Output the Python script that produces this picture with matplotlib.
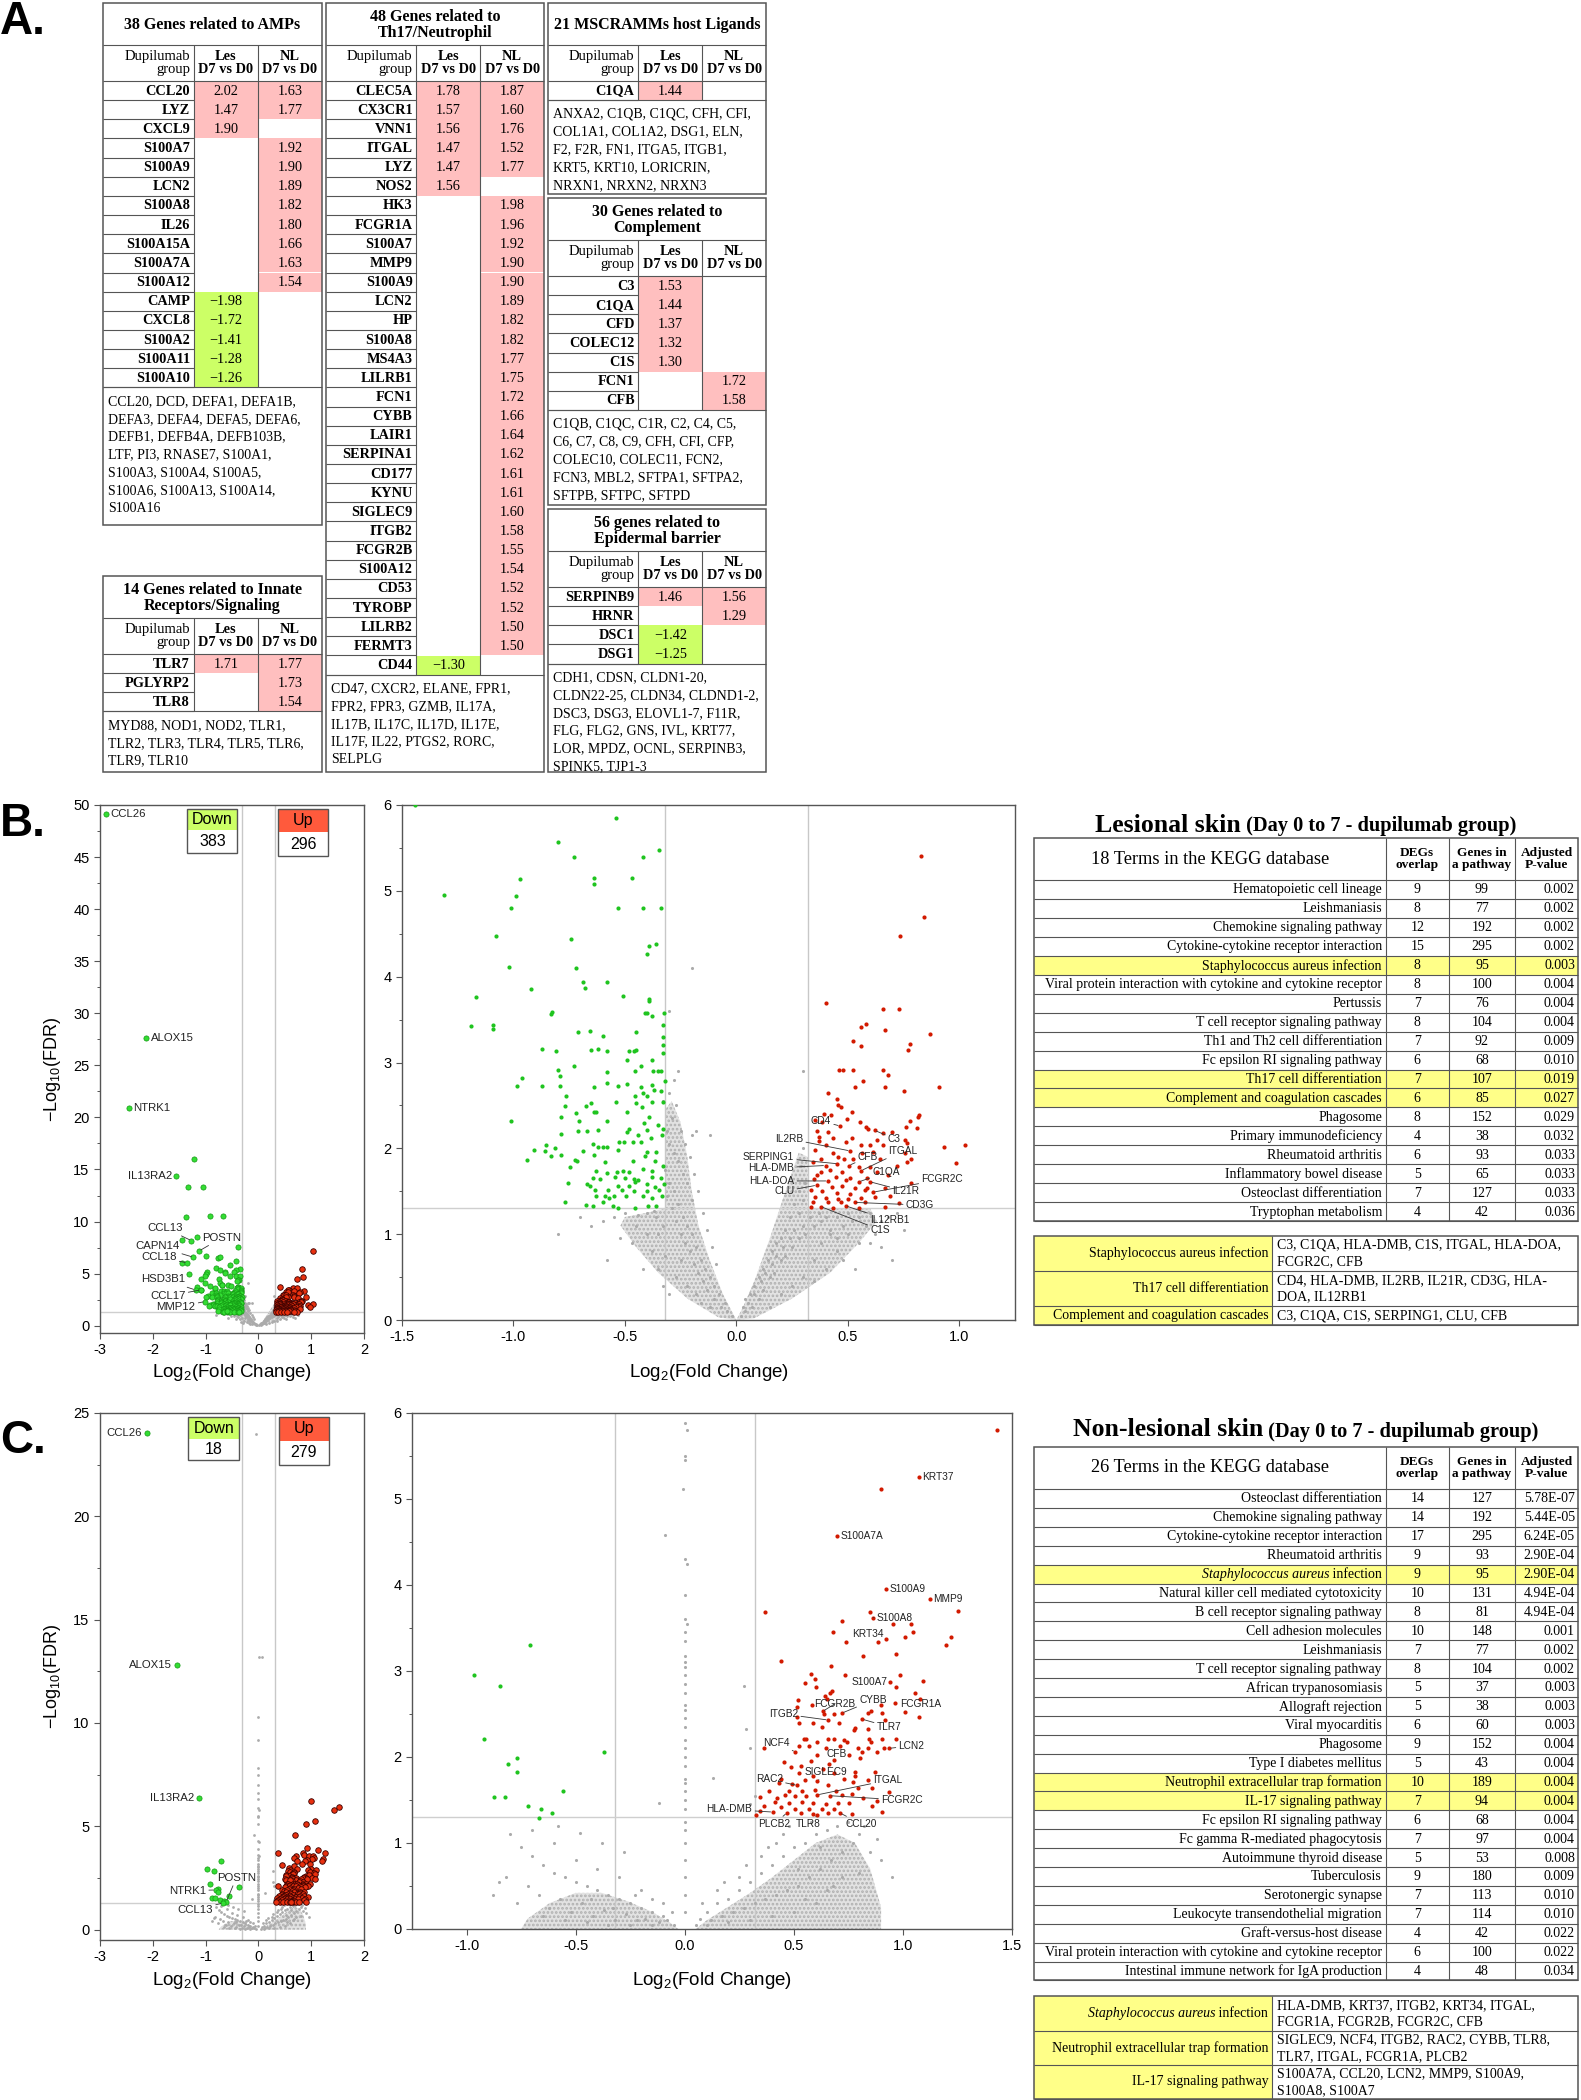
import matplotlib
matplotlib.use("Agg")
import matplotlib.pyplot as plt
from matplotlib.patches import Rectangle
from matplotlib.ticker import MultipleLocator

plt.rcParams['font.family'] = ['Liberation Sans', 'DejaVu Sans']
plt.rcParams['mathtext.fontset'] = 'custom'
plt.rcParams['mathtext.rm'] = 'Liberation Sans'
plt.rcParams['mathtext.it'] = 'Liberation Sans:italic'
plt.rcParams['mathtext.bf'] = 'Liberation Sans:bold'
plt.rcParams['axes.unicode_minus'] = False
plt.rcParams['hatch.linewidth'] = 1.3

# ====================== DATA: panel A gene tables ======================
amp_title = "38 Genes related to AMPs"
amp_genes = ["CCL20", "LYZ", "CXCL9", "S100A7", "S100A9", "LCN2", "S100A8", "IL26", "S100A15A",
             "S100A7A", "S100A12", "CAMP", "CXCL8", "S100A2", "S100A11", "S100A10"]
amp_les = [2.02, 1.47, 1.90, None, None, None, None, None, None, None, None, -1.98, -1.72, -1.41, -1.28, -1.26]
amp_nl = [1.63, 1.77, None, 1.92, 1.90, 1.89, 1.82, 1.80, 1.66, 1.63, 1.54, None, None, None, None, None]
amp_other = ["CCL20, DCD, DEFA1, DEFA1B,", "DEFA3, DEFA4, DEFA5, DEFA6,", "DEFB1, DEFB4A, DEFB103B,",
             "LTF, PI3, RNASE7, S100A1,", "S100A3, S100A4, S100A5,", "S100A6, S100A13, S100A14,", "S100A16"]

inn_title = "14 Genes related to Innate\nReceptors/Signaling"
inn_genes = ["TLR7", "PGLYRP2", "TLR8"]
inn_les = [1.71, None, None]
inn_nl = [1.77, 1.73, 1.54]
inn_other = ["MYD88, NOD1, NOD2, TLR1,", "TLR2, TLR3, TLR4, TLR5, TLR6,", "TLR9, TLR10"]

th_title = "48 Genes related to\nTh17/Neutrophil"
th_genes = ["CLEC5A", "CX3CR1", "VNN1", "ITGAL", "LYZ", "NOS2", "HK3", "FCGR1A", "S100A7", "MMP9",
            "S100A9", "LCN2", "HP", "S100A8", "MS4A3", "LILRB1", "FCN1", "CYBB", "LAIR1", "SERPINA1",
            "CD177", "KYNU", "SIGLEC9", "ITGB2", "FCGR2B", "S100A12", "CD53", "TYROBP", "LILRB2",
            "FERMT3", "CD44"]
th_les = [1.78, 1.57, 1.56, 1.47, 1.47, 1.56, None, None, None, None,
          None, None, None, None, None, None, None, None, None, None,
          None, None, None, None, None, None, None, None, None, None, -1.30]
th_nl = [1.87, 1.60, 1.76, 1.52, 1.77, None, 1.98, 1.96, 1.92, 1.90,
         1.90, 1.89, 1.82, 1.82, 1.77, 1.75, 1.72, 1.66, 1.64, 1.62,
         1.61, 1.61, 1.60, 1.58, 1.55, 1.54, 1.52, 1.52, 1.50, 1.50, None]
th_other = ["CD47, CXCR2, ELANE, FPR1,", "FPR2, FPR3, GZMB, IL17A,", "IL17B, IL17C, IL17D, IL17E,",
            "IL17F, IL22, PTGS2, RORC,", "SELPLG"]

ms_title = "21 MSCRAMMs host Ligands"
ms_genes = ["C1QA"]
ms_les = [1.44]
ms_nl = [None]
ms_other = ["ANXA2, C1QB, C1QC, CFH, CFI,", "COL1A1, COL1A2, DSG1, ELN,", "F2, F2R, FN1, ITGA5, ITGB1,",
            "KRT5, KRT10, LORICRIN,", "NRXN1, NRXN2, NRXN3"]

co_title = "30 Genes related to\nComplement"
co_genes = ["C3", "C1QA", "CFD", "COLEC12", "C1S", "FCN1", "CFB"]
co_les = [1.53, 1.44, 1.37, 1.32, 1.30, None, None]
co_nl = [None, None, None, None, None, 1.72, 1.58]
co_other = ["C1QB, C1QC, C1R, C2, C4, C5,", "C6, C7, C8, C9, CFH, CFI, CFP,", "COLEC10, COLEC11, FCN2,",
            "FCN3, MBL2, SFTPA1, SFTPA2,", "SFTPB, SFTPC, SFTPD"]

ep_title = "56 genes related to\nEpidermal barrier"
ep_genes = ["SERPINB9", "HRNR", "DSC1", "DSG1"]
ep_les = [1.46, None, -1.42, -1.25]
ep_nl = [1.56, 1.29, None, None]
ep_other = ["CDH1, CDSN, CLDN1-20,", "CLDN22-25, CLDN34, CLDND1-2,", "DSC3, DSG3, ELOVL1-7, F11R,",
            "FLG, FLG2, GNS, IVL, KRT77,", "LOR, MPDZ, OCNL, SERPINB3,", "SPINK5, TJP1-3"]

# ====================== DATA: KEGG tables ======================
kb_terms = ["Hematopoietic cell lineage", "Leishmaniasis", "Chemokine signaling pathway",
            "Cytokine-cytokine receptor interaction", "Staphylococcus aureus infection",
            "Viral protein interaction with cytokine and cytokine receptor", "Pertussis",
            "T cell receptor signaling pathway", "Th1 and Th2 cell differentiation",
            "Fc epsilon RI signaling pathway", "Th17 cell differentiation",
            "Complement and coagulation cascades", "Phagosome", "Primary immunodeficiency",
            "Rheumatoid arthritis", "Inflammatory bowel disease", "Osteoclast differentiation",
            "Tryptophan metabolism"]
kb_degs = [9, 8, 12, 15, 8, 8, 7, 8, 7, 6, 7, 6, 8, 4, 6, 5, 7, 4]
kb_genes = [99, 77, 192, 295, 95, 100, 76, 104, 92, 68, 107, 85, 152, 38, 93, 65, 127, 42]
kb_padj = ["0.002", "0.002", "0.002", "0.002", "0.003", "0.004", "0.004", "0.004", "0.009",
           "0.010", "0.019", "0.027", "0.029", "0.032", "0.033", "0.033", "0.033", "0.036"]
kb_highlight = [4, 10, 11]
kb_sel_names = ["Staphylococcus aureus infection", "Th17 cell differentiation",
                "Complement and coagulation cascades"]
kb_sel_genes = [["C3, C1QA, HLA-DMB, C1S, ITGAL, HLA-DOA,", "FCGR2C, CFB"],
                ["CD4, HLA-DMB, IL2RB, IL21R, CD3G, HLA-", "DOA, IL12RB1"],
                ["C3, C1QA, C1S, SERPING1, CLU, CFB"]]

kc_terms = ["Osteoclast differentiation", "Chemokine signaling pathway",
            "Cytokine-cytokine receptor interaction", "Rheumatoid arthritis",
            "Staphylococcus aureus infection", "Natural killer cell mediated cytotoxicity",
            "B cell receptor signaling pathway", "Cell adhesion molecules", "Leishmaniasis",
            "T cell receptor signaling pathway", "African trypanosomiasis", "Allograft rejection",
            "Viral myocarditis", "Phagosome", "Type I diabetes mellitus",
            "Neutrophil extracellular trap formation", "IL-17 signaling pathway",
            "Fc epsilon RI signaling pathway", "Fc gamma R-mediated phagocytosis",
            "Autoimmune thyroid disease", "Tuberculosis", "Serotonergic synapse",
            "Leukocyte transendothelial migration", "Graft-versus-host disease",
            "Viral protein interaction with cytokine and cytokine receptor",
            "Intestinal immune network for IgA production"]
kc_degs = [14, 14, 17, 9, 9, 10, 8, 10, 7, 8, 5, 5, 6, 9, 5, 10, 7, 6, 7, 5, 9, 7, 7, 4, 6, 4]
kc_genes = [127, 192, 295, 93, 95, 131, 81, 148, 77, 104, 37, 38, 60, 152, 43, 189, 94, 68, 97,
            53, 180, 113, 114, 42, 100, 48]
kc_padj = ["5.78E-07", "5.44E-05", "6.24E-05", "2.90E-04", "2.90E-04", "4.94E-04", "4.94E-04",
           "0.001", "0.002", "0.002", "0.003", "0.003", "0.003", "0.004", "0.004", "0.004",
           "0.004", "0.004", "0.004", "0.008", "0.009", "0.010", "0.010", "0.022", "0.022", "0.034"]
kc_highlight = [4, 15, 16]
kc_sel_names = ["Staphylococcus aureus infection", "Neutrophil extracellular trap formation",
                "IL-17 signaling pathway"]
kc_sel_genes = [["HLA-DMB, KRT37, ITGB2, KRT34, ITGAL,", "FCGR1A, FCGR2B, FCGR2C, CFB"],
                ["SIGLEC9, NCF4, ITGB2, RAC2, CYBB, TLR8,", "TLR7, ITGAL, FCGR1A, PLCB2"],
                ["S100A7A, CCL20, LCN2, MMP9, S100A9,", "S100A8, S100A7"]]

# ====================== DATA: volcano plots (log2FC, -log10 FDR) ======================
b_counts = (383, 296)
c_counts = (18, 279)

b_down = [(-1.44,6.0),(-0.54,5.85),(-0.80,5.57),(-0.73,5.39),(-0.345,5.47),(-0.42,5.39),(-0.97,5.14),
 (-0.64,5.15),(-0.47,5.15),(-0.64,5.08),(-1.31,4.95),(-0.99,4.94),(-1.01,4.80),(-0.53,4.80),(-0.42,4.80),
 (-0.34,4.80),(-1.08,4.47),(-0.74,4.44),(-0.36,4.38),(-0.39,4.36),(-0.40,4.26),(-1.02,4.11),(-0.72,4.10),
 (-0.92,3.86),(-0.69,3.94),(-0.68,3.87),(-0.58,3.94),(-0.51,3.77),(-1.17,3.76),(-0.39,3.74),(-0.39,3.72),
 (-0.83,3.57),(-0.825,3.59),(-0.41,3.58),(-0.40,3.58),(-0.325,3.58),(-0.38,3.54),(-1.19,3.43),(-1.09,3.44),
 (-1.09,3.39),(-0.71,3.35),(-0.655,3.37),(-0.60,3.31),(-0.45,3.35),(-0.33,3.44),(-0.33,3.30),(-0.87,3.16),
 (-0.81,3.13),(-0.65,3.14),(-0.62,3.16),(-0.58,3.13),(-0.48,3.13),(-0.46,3.13),(-0.45,3.14),(-0.33,3.20),
 (-0.33,3.11),(-0.73,2.96),(-0.49,3.03),(-0.455,2.90),(-0.43,2.96),(-0.38,3.03),(-0.375,2.90),(-0.35,2.90),
 (-0.80,2.91),(-0.79,2.84),(-0.96,2.82),(-0.58,2.89),(-0.34,2.90),(-0.32,2.79),(-0.58,2.76),(-0.985,2.73),
 (-0.87,2.73),(-0.79,2.73),(-0.64,2.72),(-0.53,2.73),(-0.49,2.75),(-0.43,2.72),(-0.38,2.74),(-0.34,2.67),
 (-0.37,2.68),(-0.42,2.65),(-0.765,2.61),(-0.455,2.61),(-0.40,2.61),(-0.33,2.54),(-0.65,2.53),(-0.54,2.54),
 (-0.45,2.53),(-0.38,2.54),(-0.77,2.49),(-0.675,2.49),(-0.64,2.42),(-0.63,2.42),(-0.49,2.42),(-0.425,2.48),
 (-0.72,2.41),(-0.39,2.36),(-0.785,2.36),(-1.01,2.32),(-0.705,2.32),(-0.58,2.32),(-0.415,2.30),(-0.35,2.27),
 (-0.48,2.22),(-0.67,2.20),(-0.62,2.21),(-0.40,2.21),(-0.33,2.22),(-0.49,2.19),(-0.44,2.16),(-0.335,2.15),
 (-0.785,2.17),(-0.71,2.20),(-0.525,2.07),(-0.505,2.07),(-0.465,2.07),(-0.43,2.07),(-0.385,2.12),(-0.645,2.05),
 (-0.60,2.01),(-0.58,2.01),(-0.62,2.01),(-0.855,2.04),(-0.815,2.00),(-0.91,1.98),(-0.86,1.97),(-0.69,1.97),
 (-0.53,1.98),(-0.40,1.96),(-0.36,1.96),(-0.83,1.91),(-0.785,1.92),(-0.64,1.92),(-0.41,1.91),(-0.94,1.86),
 (-0.725,1.86),(-0.715,1.85),(-0.59,1.84),(-0.465,1.85),(-0.365,1.85),(-0.33,1.80),(-0.745,1.78),(-0.63,1.74),
 (-0.535,1.73),(-0.51,1.74),(-0.48,1.73),(-0.42,1.76),(-0.38,1.74),(-0.58,1.71),(-0.545,1.67),(-0.50,1.66),
 (-0.46,1.64),(-0.44,1.63),(-0.38,1.67),(-0.34,1.65),(-0.645,1.65),(-0.61,1.64),(-0.67,1.59),(-0.755,1.60),
 (-0.655,1.56),(-0.53,1.56),(-0.48,1.56),(-0.455,1.61),(-0.40,1.59),(-0.325,1.59),(-0.635,1.52),(-0.575,1.52),
 (-0.515,1.52),(-0.46,1.50),(-0.40,1.50),(-0.365,1.55),(-0.345,1.52),(-0.63,1.45),(-0.59,1.44),(-0.55,1.44),
 (-0.495,1.44),(-0.42,1.45),(-0.38,1.42),(-0.335,1.45),(-0.77,1.37),(-0.675,1.34),(-0.645,1.33),(-0.57,1.42),
 (-0.555,1.33),(-0.53,1.31),(-0.455,1.31),(-0.395,1.33),(-0.36,1.33),(-0.60,1.38)]
b_down_high = [(-2.886,49.18),(-2.12,27.66),(-2.45,20.9),(-1.554,14.38),(-1.22,16.0),(-1.33,13.3),
 (-1.05,13.3),(-1.38,10.4),(-0.92,10.5),(-0.67,10.5),(-1.27,8.17),(-1.17,8.5),(-1.44,8.2),(-1.125,7.17),
 (-0.38,7.6),(-1.23,6.57),(-1.0,6.7),(-0.76,6.5),(-0.72,6.6),(-0.42,6.25),(-1.35,6.04)]
b_up = [(0.83,5.41),(0.84,4.69),(0.735,4.47),(0.40,3.69),(0.66,3.62),(0.73,3.62),(0.58,3.45),(0.56,3.41),
 (0.665,3.38),(0.87,3.33),(0.525,3.25),(0.56,3.19),(0.78,3.21),(0.77,3.14),(0.46,2.91),(0.48,2.91),
 (0.525,2.91),(0.66,2.91),(0.68,2.86),(0.57,2.79),(0.53,2.72),(0.665,2.72),(0.75,2.67),(0.91,2.71),
 (0.41,2.64),(0.45,2.57),(0.455,2.51),(0.47,2.48),(0.52,2.42),(0.82,2.39),(0.815,2.37),(0.395,2.40),
 (0.425,2.39),(0.495,2.34),(0.555,2.31),(0.78,2.32),(0.355,2.33),(0.385,2.31),(0.465,2.26),(0.58,2.25),
 (0.76,2.25),(0.81,2.24),(0.59,2.22),(0.36,2.20),(0.41,2.19),(0.62,2.21),(0.66,2.18),(0.70,2.19),
 (0.37,2.13),(0.52,2.12),(0.435,2.12),(0.63,2.10),(0.755,2.10),(0.37,2.09),(0.40,2.04),(0.49,2.07),
 (0.60,2.04),(0.66,2.04),(0.765,2.06),(0.56,2.04),(0.93,2.01),(1.025,2.04),(0.355,1.98),(0.435,1.95),
 (0.51,1.97),(0.565,1.95),(0.615,1.96),(0.755,1.94),(0.38,1.88),(0.455,1.90),(0.485,1.87),(0.525,1.88),
 (0.645,1.87),(0.785,1.88),(0.765,1.84),(0.985,1.83),(0.345,1.84),(0.40,1.80),(0.45,1.82),(0.505,1.80),
 (0.55,1.78),(0.60,1.78),(0.72,1.80),(0.42,1.75),(0.38,1.72),(0.475,1.72),(0.56,1.74),(0.63,1.72),
 (0.36,1.69),(0.445,1.67),(0.51,1.66),(0.585,1.66),(0.68,1.69),(0.35,1.64),(0.41,1.62),(0.49,1.63),
 (0.55,1.61),(0.60,1.61),(0.785,1.60),(0.36,1.57),(0.43,1.55),(0.475,1.56),(0.53,1.54),(0.585,1.54),
 (0.665,1.54),(0.335,1.52),(0.385,1.50),(0.45,1.48),(0.51,1.47),(0.575,1.51),(0.615,1.49),(0.69,1.44),
 (0.355,1.43),(0.40,1.42),(0.455,1.41),(0.50,1.41),(0.56,1.42),(0.62,1.43),(0.345,1.37),(0.41,1.37),
 (0.47,1.38),(0.53,1.37),(0.575,1.38),(0.73,1.36),(0.335,1.32),(0.38,1.32),(0.435,1.31),(0.49,1.33),
 (0.55,1.31),(0.665,1.32)]
b_up_high = [(1.03,7.2)]
b_ns = [(-0.02,0.05),(-0.04,0.1),(-0.05,0.2),(-0.07,0.15),(-0.08,0.3),(-0.1,0.25),(-0.1,0.4),(-0.12,0.5),
 (-0.13,0.35),(-0.14,0.6),(-0.15,0.45),(-0.16,0.7),(-0.17,0.55),(-0.18,0.85),(-0.19,0.65),(-0.2,1.0),
 (-0.21,0.8),(-0.22,1.1),(-0.23,0.9),(-0.24,1.2),(-0.25,1.0),(-0.26,1.35),(-0.27,1.15),(-0.28,1.5),
 (-0.29,1.3),(-0.3,1.6),(-0.31,1.45),(-0.32,1.75),(-0.2,1.4),(-0.22,1.6),(-0.24,1.7),(-0.26,1.85),
 (-0.28,1.95),(-0.3,2.05),(-0.31,2.2),(-0.29,2.35),(-0.27,2.5),(-0.25,2.2),(-0.23,2.05),(-0.21,1.9),
 (-0.19,1.7),(-0.17,1.5),(-0.15,1.25),(-0.13,1.05),(-0.11,0.85),(-0.09,0.65),(-0.3,2.65),(-0.28,2.8),
 (-0.26,2.9),(-0.2,2.15),(-0.18,2.2),(-0.12,2.15),(-0.2,4.1),(-0.36,1.2),(-0.4,1.0),(-0.45,1.1),
 (-0.5,1.25),(-0.55,1.2),(-0.6,1.15),(-0.38,0.8),(-0.42,0.6),(-0.35,0.6),(-0.33,0.4),(-0.3,0.3),
 (-0.27,0.5),(-0.4,1.25),(-0.47,0.9),(-0.52,0.95),(-0.65,1.1),(-0.7,1.2),(-0.35,1.0),(-0.33,1.1),
 (-0.37,1.27),(-0.44,1.22),(-0.32,0.75),(-0.25,0.7),(-0.22,0.4),(-0.18,0.3),(-0.16,0.2),(-0.12,0.15),
 (-0.3,3.6),(-0.33,2.55),(-0.8,1.0),(-0.58,0.7),
 (0.02,0.05),(0.04,0.1),(0.05,0.2),(0.07,0.15),(0.08,0.3),(0.1,0.25),(0.11,0.45),(0.12,0.35),(0.13,0.55),
 (0.15,0.5),(0.16,0.65),(0.17,0.55),(0.18,0.75),(0.2,0.7),(0.21,0.85),(0.22,0.75),(0.24,0.95),(0.25,0.85),
 (0.26,1.05),(0.28,0.95),(0.3,1.1),(0.31,1.0),(0.33,1.2),(0.35,1.1),(0.37,1.25),(0.38,1.15),(0.4,1.2),
 (0.42,1.05),(0.45,1.2),(0.48,1.1),(0.5,1.25),(0.52,1.15),(0.55,1.2),(0.58,1.1),(0.6,1.25),(0.62,1.0),
 (0.65,1.15),(0.7,0.7),(0.55,0.9),(0.45,0.8),(0.4,0.6),(0.35,0.7),(0.3,0.5),(0.25,0.4),(0.2,0.3),
 (0.15,0.15),(0.35,0.45),(0.45,0.95),(0.5,1.0),(0.28,1.25),(0.3,1.4),(0.31,1.6),(0.29,1.8),(0.3,2.0),
 (0.28,1.5),(0.3,2.9),(0.26,1.35),(0.24,1.2),(0.22,1.05),(0.2,0.95),(0.18,0.9),(0.16,0.8),(0.14,0.7),
 (0.12,0.6),(0.1,0.5),(0.08,0.4),(0.06,0.3),(0.04,0.25),(0.03,0.15),(0.48,0.7),(0.53,0.6),(0.38,0.9),
 (0.42,1.0),(0.6,0.9),(0.68,1.2),(0.72,1.25),(0.65,0.85),(0.75,1.05)]
# outline of the dense non-significant cloud
b_cloud_neg = [(0.0,0.0),(-0.06,0.3),(-0.12,0.7),(-0.17,1.1),(-0.2,1.5),(-0.22,1.9),(-0.25,2.3),
 (-0.29,2.55),(-0.32,2.45),(-0.32,1.3),(-0.4,1.25),(-0.5,1.2),(-0.52,1.1),(-0.45,0.85),(-0.35,0.55),
 (-0.22,0.25),(-0.08,0.03)]
b_cloud_pos = [(0.0,0.0),(0.08,0.02),(0.25,0.25),(0.42,0.55),(0.55,0.9),(0.63,1.15),(0.6,1.3),
 (0.32,1.3),(0.32,1.9),(0.28,1.95),(0.22,1.5),(0.15,0.95),(0.08,0.45),(0.03,0.15)]

c_down = [(-0.707,3.30),(-0.968,2.95),(-0.847,2.83),(-0.922,2.21),(-0.368,2.06),(-0.767,1.99),
 (-0.812,1.92),(-0.767,1.83),(-0.556,1.61),(-0.875,1.53),(-0.823,1.53),(-0.72,1.43),(-0.657,1.40),
 (-0.608,1.35),(-0.67,1.29)]
c_down_high = [(-2.11,24.03),(-1.55,12.8),(-1.13,6.35)]
c_up = [(1.433,5.80),(1.075,5.26),(0.901,5.12),(0.70,4.57),(0.922,3.95),(1.125,3.84),(0.366,3.69),
 (0.851,3.69),(1.254,3.70),(0.864,3.62),(0.72,3.58),(0.955,3.55),(1.035,3.55),(0.681,3.45),(1.045,3.45),
 (1.009,3.40),(1.22,3.40),(0.922,3.37),(0.737,3.34),(0.884,3.34),(1.196,3.30),(0.968,3.20),(0.819,3.17),
 (0.442,3.12),(0.672,3.06),(0.58,2.96),(0.735,2.95),(0.987,2.95),(0.599,2.91),(1.09,2.88),(0.94,2.87),
 (0.552,2.86),(0.603,2.81),(0.968,2.81),(0.674,2.77),(0.666,2.75),(1.056,2.75),(0.642,2.71),(0.651,2.67),
 (0.519,2.66),(1.078,2.68),(0.582,2.61),(0.899,2.60),(0.966,2.63),(0.515,2.58),(0.632,2.53),(0.683,2.50),
 (0.72,2.51),(0.856,2.53),(0.905,2.51),(1.009,2.52),(0.640,2.50),(1.075,2.47),(0.841,2.51),(0.513,2.46),
 (0.657,2.43),(0.813,2.44),(0.919,2.43),(0.709,2.40),(0.522,2.40),(0.78,2.34),(0.627,2.35),(0.841,2.32),
 (0.59,2.39),(0.778,2.31),(0.545,2.21),(0.556,2.21),(0.657,2.21),(0.685,2.21),(0.731,2.20),(0.744,2.18),
 (0.843,2.21),(0.905,2.21),(0.968,2.21),(0.854,2.18),(0.604,2.17),(0.522,2.13),(0.571,2.13),(0.646,2.10),
 (0.711,2.13),(0.795,2.10),(0.841,2.10),(0.914,2.10),(0.935,2.10),(0.362,2.10),(0.507,2.06),(0.813,2.06),
 (0.879,2.06),(0.754,2.02),(0.604,2.02),(0.683,1.96),(0.659,1.92),(0.804,1.99),(0.58,1.95),(0.455,1.94),
 (0.485,1.88),(0.534,1.90),(0.636,1.86),(0.78,1.83),(0.87,1.83),(0.524,1.81),(0.683,1.81),(0.59,1.78),
 (0.78,1.78),(0.44,1.75),(0.552,1.73),(0.608,1.72),(0.728,1.74),(0.769,1.71),(0.841,1.73),(0.493,1.69),
 (0.515,1.67),(0.655,1.67),(0.431,1.70),(0.795,1.64),(0.86,1.64),(0.386,1.61),(0.478,1.61),(0.537,1.60),
 (0.595,1.62),(0.692,1.60),(0.935,1.59),(0.459,1.56),(0.506,1.55),(0.556,1.55),(0.608,1.56),(0.664,1.55),
 (0.72,1.56),(0.767,1.57),(0.347,1.53),(0.422,1.52),(0.819,1.52),(0.879,1.49),(0.412,1.48),(0.478,1.47),
 (0.537,1.48),(0.59,1.47),(0.646,1.45),(0.702,1.46),(0.754,1.46),(0.362,1.43),(0.44,1.42),(0.506,1.40),
 (0.571,1.40),(0.627,1.39),(0.683,1.40),(0.86,1.43),(0.347,1.37),(0.403,1.36),(0.468,1.35),(0.534,1.35),
 (0.59,1.34),(0.655,1.35),(0.711,1.35),(0.767,1.34),(0.903,1.36),(0.328,1.32),(0.608,1.33)]
c_up_high = [(0.99,6.25),(1.52,5.92)]
c_ns = [(0.0,5.88),(0.01,5.8),(0.0,5.5),(0.0,5.45),(-0.01,5.12),(0.0,4.3),(0.01,4.25),(0.0,3.88),(0.0,3.6),
 (0.01,3.55),(0.0,3.45),(0.0,3.35),(0.0,3.18),(0.0,3.1),(0.0,3.05),(0.0,2.95),(0.0,2.85),(0.0,2.75),
 (0.0,2.6),(0.0,2.55),(0.0,2.45),(0.0,2.35),(0.0,2.2),(0.0,2.1),(0.0,2.0),(0.0,1.9),(0.0,1.75),(0.0,1.7),
 (0.0,1.6),(0.0,1.5),(0.0,1.4),(0.0,1.25),(0.0,1.15),(0.0,1.0),(0.0,0.8),(0.0,0.6),(0.0,0.4),(0.0,0.2),
 (-0.09,4.58),(0.27,2.82),(0.28,2.33),(0.3,2.1),(0.3,1.45),(0.13,1.76),(-0.12,1.46),(0.32,1.55),
 (-0.05,24.0),(0.02,13.2),(0.06,13.2),(0.0,10.3),(0.0,9.2),(0.0,7.8),(0.0,7.5),(0.0,7.0),(0.0,6.6),(0.0,6.3),
 (-0.05,0.05),(-0.08,0.1),(-0.1,0.15),(-0.12,0.08),(-0.15,0.2),(-0.18,0.12),(-0.2,0.25),(-0.22,0.1),
 (-0.25,0.3),(-0.27,0.18),(-0.3,0.35),(-0.32,0.1),(-0.35,0.4),(-0.37,0.22),(-0.4,0.45),(-0.42,0.15),
 (-0.45,0.5),(-0.47,0.3),(-0.5,0.55),(-0.52,0.2),(-0.55,0.6),(-0.57,0.35),(-0.6,0.65),(-0.62,0.25),
 (-0.65,0.75),(-0.67,0.4),(-0.7,0.85),(-0.72,0.5),(-0.75,0.95),(-0.77,0.3),(-0.8,1.1),(-0.82,0.6),
 (-0.85,0.55),(-0.88,0.4),(-0.6,1.0),(-0.5,0.8),(-0.4,0.7),(-0.3,0.6),(-0.2,0.45),(-0.15,0.35),(-0.1,0.3),
 (-0.35,0.05),(-0.45,0.08),(-0.55,0.1),(-0.65,0.15),(-0.28,0.9),(-0.38,1.0),(-0.48,1.12),(-0.58,1.2),
 (-0.7,1.15),(-0.25,0.05),(-0.15,0.05),(-0.06,0.2),(-0.43,0.35),(-0.33,0.25),(-0.23,0.4),
 (0.05,0.05),(0.07,0.12),(0.1,0.2),(0.12,0.1),(0.15,0.3),(0.17,0.15),(0.2,0.35),(0.22,0.2),(0.25,0.45),
 (0.27,0.25),(0.3,0.55),(0.32,0.3),(0.35,0.65),(0.37,0.35),(0.4,0.75),(0.42,0.4),(0.45,0.85),(0.47,0.45),
 (0.5,0.95),(0.52,0.5),(0.55,1.0),(0.57,0.6),(0.6,1.1),(0.62,0.7),(0.65,1.15),(0.67,0.8),(0.7,1.2),
 (0.72,0.9),(0.75,1.25),(0.77,1.0),(0.8,1.1),(0.85,0.9),(0.9,0.8),(0.95,0.6),(0.1,0.05),(0.2,0.08),
 (0.3,0.1),(0.4,0.15),(0.5,0.2),(0.6,0.3),(0.18,0.55),(0.28,0.75),(0.38,0.95),(0.48,1.2),(0.58,1.25),
 (0.68,0.5),(0.8,0.65),(0.25,0.6),(0.35,0.85),(0.45,1.1),(0.55,0.35),(0.65,0.45),(0.15,0.45),(0.08,0.3),
 (0.42,1.0),(0.52,0.7),(0.62,0.95),(0.72,0.6),(0.82,1.2),(0.88,1.05)]
c_cloud_neg = [(-0.03,0.0),(-0.75,0.0),(-0.72,0.12),(-0.62,0.3),(-0.5,0.42),(-0.38,0.42),(-0.26,0.32),
 (-0.15,0.2),(-0.07,0.08)]
c_cloud_pos = [(0.05,0.0),(0.9,0.0),(0.9,0.25),(0.85,0.7),(0.78,1.0),(0.7,1.1),(0.6,1.0),(0.5,0.8),
 (0.4,0.6),(0.3,0.42),(0.2,0.26),(0.1,0.1)]

# labels: (name, point x, point y, text x, text y, ha, leader line)
lab_b_left = [("CCL26", -2.886, 49.18, -2.80, 49.18, 'left', False),
              ("ALOX15", -2.12, 27.66, -2.03, 27.66, 'left', False),
              ("NTRK1", -2.45, 20.9, -2.37, 20.9, 'left', False),
              ("IL13RA2", -1.554, 14.38, -1.64, 14.38, 'right', False),
              ("CCL13", -1.27, 8.17, -1.43, 9.37, 'right', True),
              ("POSTN", -1.125, 7.17, -1.06, 8.45, 'left', True),
              ("CAPN14", -1.23, 6.57, -1.50, 7.63, 'right', True),
              ("CCL18", -1.35, 6.04, -1.55, 6.57, 'right', True),
              ("HSD3B1", -1.19, 3.43, -1.38, 4.44, 'right', True),
              ("CCL17", -1.09, 3.44, -1.38, 2.84, 'right', True),
              ("MMP12", -1.01, 2.32, -1.19, 1.78, 'right', True)]
lab_b_mid = [("CD4", 0.465, 2.26, 0.334, 2.32, 'left', True),
             ("C3", 0.62, 2.21, 0.68, 2.11, 'left', True),
             ("IL2RB", 0.51, 1.97, 0.30, 2.11, 'right', True),
             ("ITGAL", 0.56, 1.74, 0.68, 1.97, 'left', True),
             ("CFB", 0.505, 1.80, 0.545, 1.90, 'left', True),
             ("SERPING1", 0.455, 1.82, 0.26, 1.90, 'right', True),
             ("HLA-DMB", 0.40, 1.80, 0.26, 1.77, 'right', True),
             ("C1QA", 0.55, 1.61, 0.61, 1.72, 'left', True),
             ("FCGR2C", 0.615, 1.49, 0.83, 1.64, 'left', True),
             ("HLA-DOA", 0.41, 1.62, 0.26, 1.62, 'right', True),
             ("CLU", 0.36, 1.57, 0.26, 1.50, 'right', True),
             ("IL21R", 0.60, 1.61, 0.70, 1.50, 'left', True),
             ("CD3G", 0.53, 1.37, 0.76, 1.34, 'left', True),
             ("IL12RB1", 0.49, 1.33, 0.60, 1.16, 'left', True),
             ("C1S", 0.38, 1.32, 0.60, 1.05, 'left', True)]
lab_c_left = [("CCL26", -2.11, 24.03, -2.2, 24.03, 'right', False),
              ("ALOX15", -1.55, 12.8, -1.64, 12.8, 'right', False),
              ("IL13RA2", -1.13, 6.35, -1.22, 6.35, 'right', False),
              ("POSTN", -0.608, 1.35, -0.42, 2.5, 'center', True),
              ("NTRK1", -0.812, 1.92, -0.99, 1.89, 'right', True),
              ("CCL13", -0.67, 1.29, -0.86, 0.96, 'right', True)]
lab_c_mid = [("KRT37", 1.075, 5.26, 1.09, 5.26, 'left', False),
             ("S100A7A", 0.70, 4.57, 0.715, 4.57, 'left', False),
             ("S100A9", 0.922, 3.95, 0.937, 3.95, 'left', False),
             ("MMP9", 1.125, 3.84, 1.14, 3.84, 'left', False),
             ("S100A8", 0.864, 3.62, 0.88, 3.62, 'left', True),
             ("KRT34", 0.884, 3.34, 0.765, 3.43, 'left', False),
             ("S100A7", 0.94, 2.87, 0.93, 2.87, 'right', False),
             ("FCGR2B", 0.632, 2.53, 0.595, 2.62, 'left', True),
             ("CYBB", 0.72, 2.51, 0.80, 2.66, 'left', True),
             ("FCGR1A", 0.966, 2.63, 0.985, 2.62, 'left', False),
             ("ITGB2", 0.657, 2.43, 0.52, 2.50, 'right', True),
             ("TLR7", 0.813, 2.44, 0.88, 2.35, 'left', True),
             ("NCF4", 0.507, 2.06, 0.48, 2.16, 'right', True),
             ("LCN2", 0.935, 2.10, 0.98, 2.13, 'left', True),
             ("CFB", 0.683, 1.96, 0.65, 2.03, 'left', False),
             ("SIGLEC9", 0.608, 1.72, 0.55, 1.83, 'left', True),
             ("RAC2", 0.515, 1.67, 0.45, 1.74, 'right', True),
             ("ITGAL", 0.608, 1.56, 0.865, 1.73, 'left', True),
             ("FCGR2C", 0.664, 1.55, 0.90, 1.50, 'left', True),
             ("HLA-DMB", 0.403, 1.36, 0.31, 1.39, 'right', True),
             ("PLCB2", 0.468, 1.35, 0.41, 1.22, 'center', True),
             ("TLR8", 0.608, 1.33, 0.565, 1.22, 'center', True),
             ("CCL20", 0.711, 1.35, 0.81, 1.22, 'center', True)]

# ====================== STYLE ======================
SERIF = ['Liberation Serif', 'DejaVu Serif']
SANS = ['Liberation Sans', 'DejaVu Sans']
PINK = '#ffbfbf'
LIME = '#ccff66'
YEL = '#ffff88'
LINE = '#555555'
GREY_PT = '#ababab'
CLOUD_FILL = '#e2e2e2'
CLOUD_DOT = '#b0b0b0'
GREEN_PT = '#1fc41f'
RED_PT = '#d21a00'

W, H = 1581, 2100
fig = plt.figure(figsize=(W / 100, H / 100), dpi=100, facecolor='white')
canvas = fig.add_axes([0, 0, 1, 1])
canvas.set_xlim(0, W)
canvas.set_ylim(H, 0)
canvas.axis('off')
canvas.patch.set_alpha(0)


def hline(x0, x1, y, lw=0.8, color=LINE):
    canvas.plot([x0, x1], [y, y], color=color, lw=lw, solid_capstyle='butt', zorder=3)


def vline(x, y0, y1, lw=0.8, color=LINE):
    canvas.plot([x, x], [y0, y1], color=color, lw=lw, solid_capstyle='butt', zorder=3)


def fmt(v):
    return f"{v:.2f}".replace('-', '\u2212')


TITLE_H, HEAD_H, ROW_H, FOOT_LS = 42, 36, 19.15, 17.8


def gene_table(x0, x1, top, bottom, title, genes, les, nl, footer):
    w = x1 - x0
    c1 = x0 + 0.415 * w
    c2 = x0 + 0.707 * w
    yt = top + TITLE_H
    yh = yt + HEAD_H
    yr = yh + ROW_H * len(genes)
    for i, g in enumerate(genes):
        y = yh + i * ROW_H
        for val, xa, xb in ((les[i], c1, c2), (nl[i], c2, x1)):
            if val is not None:
                canvas.add_patch(Rectangle((xa, y), xb - xa, ROW_H, fc=PINK if val > 0 else LIME,
                                           ec='none', zorder=1))
                canvas.text((xa + xb) / 2, y + ROW_H / 2 + 0.5, fmt(val), ha='center', va='center',
                            fontsize=10.3, family=SERIF, zorder=4)
        canvas.text(c1 - 4, y + ROW_H / 2 + 0.5, g, ha='right', va='center', fontsize=10.3,
                    fontweight='bold', family=SERIF, zorder=4)
        hline(x0, c1, y + ROW_H)
    canvas.add_patch(Rectangle((x0, top), w, bottom - top, fc='none', ec=LINE, lw=1.1, zorder=3))
    hline(x0, x1, yt)
    hline(x0, x1, yh)
    hline(x0, x1, yr)
    vline(c1, yt, yr)
    vline(c2, yt, yr)
    canvas.text((x0 + x1) / 2, top + TITLE_H / 2 + 1, title, ha='center', va='center', fontsize=11.5,
                fontweight='bold', family=SERIF, linespacing=1.05, zorder=4)
    canvas.text(c1 - 4, yt + HEAD_H / 2, "Dupilumab\ngroup", ha='right', va='center', fontsize=10.5,
                family=SERIF, multialignment='right', linespacing=1.05, zorder=4)
    canvas.text((c1 + c2) / 2, yt + HEAD_H / 2, "Les\nD7 vs D0", ha='center', va='center', fontsize=10.3,
                fontweight='bold', family=SERIF, linespacing=1.05, zorder=4)
    canvas.text((c2 + x1) / 2, yt + HEAD_H / 2, "NL\nD7 vs D0", ha='center', va='center', fontsize=10.3,
                fontweight='bold', family=SERIF, linespacing=1.05, zorder=4)
    for k, line in enumerate(footer):
        canvas.text(x0 + 5, yr + 14 + k * FOOT_LS, line, ha='left', va='center', fontsize=10,
                    family=SERIF, zorder=4)


# ---- Panel A ----
canvas.text(0, 34, "A.", fontsize=33, fontweight='bold', family=SANS, ha='left', va='baseline')
gene_table(103, 322, 3, 525, amp_title, amp_genes, amp_les, amp_nl, amp_other)
gene_table(103, 322, 576, 772, inn_title, inn_genes, inn_les, inn_nl, inn_other)
gene_table(326, 544, 3, 772, th_title, th_genes, th_les, th_nl, th_other)
gene_table(548, 766, 3, 194, ms_title, ms_genes, ms_les, ms_nl, ms_other)
gene_table(548, 766, 198, 505, co_title, co_genes, co_les, co_nl, co_other)
gene_table(548, 766, 509, 772, ep_title, ep_genes, ep_les, ep_nl, ep_other)


# ---- KEGG tables ----
def right_text(x, y, s, italic_prefix=None, **kw):
    if italic_prefix and s.startswith(italic_prefix):
        rest = s[len(italic_prefix):]
        t = canvas.text(x, y, rest, ha='right', va='center', zorder=4, **kw)
        canvas.annotate(italic_prefix, xy=(0, 0.5), xycoords=t, ha='right', va='center',
                        style='italic', zorder=4, **kw)
    else:
        canvas.text(x, y, s, ha='right', va='center', zorder=4, **kw)


titles_to_center = []
KFS = 10.0


def kegg_table(x0, x1, title_y, big, small, top, row_h, count_label, terms, degs, genes, padj,
               hl, italic_prefix=None):
    w = x1 - x0
    b1 = x0 + 0.647 * w
    b2 = x0 + 0.762 * w
    b3 = x0 + 0.885 * w
    head_h = 42
    yh = top + head_h
    n = len(terms)
    ye = yh + n * row_h
    t1 = canvas.text(x0, title_y, big, fontsize=18.5, fontweight='bold', family=SERIF,
                     ha='left', va='center')
    t2 = canvas.annotate(small, xy=(1, 0), xycoords=t1, ha='left', va='bottom', fontsize=14.7,
                         fontweight='bold', family=SERIF)
    titles_to_center.append((t1, t2, (x0 + x1) / 2))
    for i in range(n):
        y = yh + i * row_h
        if i in hl:
            canvas.add_patch(Rectangle((x0, y), w, row_h, fc=YEL, ec='none', zorder=1))
        yc = y + row_h / 2 + 0.5
        right_text(b1 - 4, yc, terms[i], italic_prefix, fontsize=KFS, family=SERIF)
        canvas.text((b1 + b2) / 2, yc, str(degs[i]), ha='center', va='center', fontsize=KFS,
                    family=SERIF, zorder=4)
        canvas.text((b2 + b3) / 2, yc, str(genes[i]), ha='center', va='center', fontsize=KFS,
                    family=SERIF, zorder=4)
        canvas.text(x1 - 3, yc, padj[i], ha='right', va='center', fontsize=KFS, family=SERIF, zorder=4)
        hline(x0, x1, y + row_h)
    canvas.add_patch(Rectangle((x0, top), w, ye - top, fc='none', ec=LINE, lw=1.1, zorder=3))
    hline(x0, x1, yh)
    for b in (b1, b2, b3):
        vline(b, top, ye)
    canvas.text((x0 + b1) / 2, top + head_h / 2, count_label, ha='center', va='center', fontsize=13.2,
                family=SERIF, zorder=4)
    for xa, xb, s in ((b1, b2, "DEGs\noverlap"), (b2, b3, "Genes in\na pathway"),
                      (b3, x1, "Adjusted\nP-value")):
        canvas.text((xa + xb) / 2, top + head_h / 2, s, ha='center', va='center', fontsize=9.6,
                    fontweight='bold', family=SERIF, linespacing=1.1, zorder=4)


def kegg_genes(x0, x1, top, heights, names, lines_list, italic_prefix=None):
    b = x0 + 0.438 * (x1 - x0)
    y = top
    for h, name, lines in zip(heights, names, lines_list):
        canvas.add_patch(Rectangle((x0, y), b - x0, h, fc=YEL, ec='none', zorder=1))
        right_text(b - 4, y + h / 2, name, italic_prefix, fontsize=KFS, family=SERIF)
        for k, ln in enumerate(lines):
            canvas.text(b + 5, y + h / 2 + (k - (len(lines) - 1) / 2) * 16.5, ln, ha='left',
                        va='center', fontsize=KFS, family=SERIF, zorder=4)
        y += h
        hline(x0, x1, y)
    canvas.add_patch(Rectangle((x0, top), x1 - x0, y - top, fc='none', ec=LINE, lw=1.1, zorder=3))
    vline(b, top, y)


kegg_table(1034, 1578, 825, "Lesional skin", " (Day 0 to 7 - dupilumab group)", 838, 18.95,
           "18 Terms in the KEGG database", kb_terms, kb_degs, kb_genes, kb_padj, kb_highlight)
kegg_genes(1034, 1578, 1236, [35, 35, 19], kb_sel_names, kb_sel_genes)
kegg_table(1034, 1578, 1430, "Non-lesional skin", " (Day 0 to 7 - dupilumab group)", 1447, 18.9,
           "26 Terms in the KEGG database", kc_terms, kc_degs, kc_genes, kc_padj, kc_highlight,
           italic_prefix="Staphylococcus aureus")
kegg_genes(1034, 1578, 1996, [35, 34, 34], kc_sel_names, kc_sel_genes,
           italic_prefix="Staphylococcus aureus")

canvas.text(0, 836, "B.", fontsize=33, fontweight='bold', family=SANS, ha='left', va='baseline')
canvas.text(0, 1453, "C.", fontsize=33, fontweight='bold', family=SANS, ha='left', va='baseline')


# ---- Volcano plots ----
def add_ax(x0, y0, x1, y1):
    return fig.add_axes([x0 / W, 1 - y1 / H, (x1 - x0) / W, (y1 - y0) / H])


def unzip(pts):
    return [p[0] for p in pts], [p[1] for p in pts]


def volcano(ax, ns, clouds, down, up, xlim, ylim, big, labels, lab_fs):
    gx, gy = unzip(ns)
    dx, dy = unzip(down)
    ux, uy = unzip(up)
    for cl in clouds:
        cx, cy = unzip(cl)
        ax.fill(cx, cy, facecolor=CLOUD_FILL, edgecolor=CLOUD_DOT, hatch='....', lw=0, zorder=0.8)
    ax.axvline(-0.32, color='#c8c8c8', lw=1.0, zorder=1)
    ax.axvline(0.32, color='#c8c8c8', lw=1.0, zorder=1)
    ax.axhline(1.3, color='#cfcfcf', lw=1.0, zorder=1)
    ax.scatter(gx, gy, s=4 if big else 5, c=GREY_PT, lw=0, zorder=2)
    if big:
        ax.scatter(dx, dy, s=14, c='#33dd33', edgecolors='#139913', linewidths=0.5, zorder=3)
        ax.scatter(ux, uy, s=16, c='#e8300f', edgecolors='#3a0000', linewidths=0.6, zorder=3)
    else:
        ax.scatter(dx, dy, s=9, c=GREEN_PT, lw=0, zorder=3)
        ax.scatter(ux, uy, s=9, c=RED_PT, lw=0, zorder=3)
    ax.set_xlim(*xlim)
    ax.set_ylim(*ylim)
    for s in ax.spines.values():
        s.set_color('#555555')
        s.set_linewidth(1.0)
    ax.tick_params(direction='out', length=4, width=0.8, color='#555555', labelsize=10.5)
    ax.tick_params(which='minor', direction='out', length=2.5, width=0.7, color='#555555')
    for name, px, py, tx, ty, ha, line in labels:
        if line:
            ax.annotate(name, xy=(px, py), xytext=(tx, ty), ha=ha, va='center', fontsize=lab_fs,
                        color='#222222', zorder=6,
                        arrowprops=dict(arrowstyle='-', color='#333333', lw=0.6, shrinkA=0, shrinkB=1.5))
        else:
            ax.text(tx, ty, name, ha=ha, va='center', fontsize=lab_fs, color='#222222', zorder=6)


def count_box(ax, x0, x1, ytop, ymid, ybot, label, count, color):
    ax.add_patch(Rectangle((x0, ymid), x1 - x0, ytop - ymid, transform=ax.transAxes, fc=color,
                           ec='none', zorder=7))
    ax.add_patch(Rectangle((x0, ybot), x1 - x0, ymid - ybot, transform=ax.transAxes, fc='white',
                           ec='none', zorder=7))
    ax.add_patch(Rectangle((x0, ybot), x1 - x0, ytop - ybot, transform=ax.transAxes, fc='none',
                           ec='#555555', lw=1.0, zorder=8))
    ax.text((x0 + x1) / 2, (ytop + ymid) / 2, label, transform=ax.transAxes, ha='center',
            va='center', fontsize=11.5, zorder=9)
    ax.text((x0 + x1) / 2, (ymid + ybot) / 2, str(count), transform=ax.transAxes, ha='center',
            va='center', fontsize=11.5, zorder=9)


YLAB = "\u2212Log$_{10}$(FDR)"
XLAB = "Log$_{2}$(Fold Change)"

# B left
axbl = add_ax(100, 805, 364, 1333)
volcano(axbl, b_ns, [b_cloud_neg, b_cloud_pos], b_down + b_down_high, b_up + b_up_high,
        (-3, 2), (-0.7, 50), True, lab_b_left, 8.2)
axbl.yaxis.set_major_locator(MultipleLocator(5))
axbl.yaxis.set_minor_locator(MultipleLocator(2.5))
axbl.xaxis.set_major_locator(MultipleLocator(1))
axbl.set_ylabel(YLAB, fontsize=13)
axbl.yaxis.set_label_coords(-0.14, 0.5)
axbl.set_xlabel(XLAB, fontsize=13.5)
axbl.xaxis.set_label_coords(0.5, -0.055)
count_box(axbl, 0.331, 0.520, 0.993, 0.952, 0.910, "Down", b_counts[0], LIME)
count_box(axbl, 0.675, 0.864, 0.993, 0.948, 0.903, "Up", b_counts[1], '#ff5a3c')

# B middle
axbm = add_ax(402, 805, 1015, 1320)
volcano(axbm, b_ns, [b_cloud_neg, b_cloud_pos], b_down + b_down_high, b_up + b_up_high,
        (-1.5, 1.25), (0, 6), False, lab_b_mid, 7.3)
axbm.yaxis.set_major_locator(MultipleLocator(1))
axbm.yaxis.set_minor_locator(MultipleLocator(0.5))
axbm.xaxis.set_major_locator(MultipleLocator(0.5))
axbm.set_xlabel(XLAB, fontsize=13.5)
axbm.xaxis.set_label_coords(0.5, -0.082)

# C left
axcl = add_ax(100, 1413, 364, 1940)
volcano(axcl, c_ns, [c_cloud_neg, c_cloud_pos], c_down + c_down_high, c_up + c_up_high,
        (-3, 2), (-0.5, 25), True, lab_c_left, 8.2)
axcl.yaxis.set_major_locator(MultipleLocator(5))
axcl.yaxis.set_minor_locator(MultipleLocator(2.5))
axcl.xaxis.set_major_locator(MultipleLocator(1))
axcl.set_ylabel(YLAB, fontsize=13)
axcl.yaxis.set_label_coords(-0.14, 0.5)
axcl.set_xlabel(XLAB, fontsize=13.5)
axcl.xaxis.set_label_coords(0.5, -0.057)
count_box(axcl, 0.335, 0.526, 0.993, 0.950, 0.910, "Down", c_counts[0], LIME)
count_box(axcl, 0.678, 0.867, 0.993, 0.947, 0.902, "Up", c_counts[1], '#ff5a3c')

# C middle
axcm = add_ax(412, 1413, 1012, 1929)
volcano(axcm, c_ns, [c_cloud_neg, c_cloud_pos], c_down + c_down_high, c_up + c_up_high,
        (-1.25, 1.5), (0, 6), False, lab_c_mid, 7.3)
axcm.yaxis.set_major_locator(MultipleLocator(1))
axcm.yaxis.set_minor_locator(MultipleLocator(0.5))
axcm.xaxis.set_major_locator(MultipleLocator(0.5))
axcm.set_xlabel(XLAB, fontsize=13.5)
axcm.xaxis.set_label_coords(0.5, -0.08)

# center KEGG titles
renderer = fig.canvas.get_renderer()
for t1, t2, cx in titles_to_center:
    w1 = t1.get_window_extent(renderer).width
    w2 = t2.get_window_extent(renderer).width
    t1.set_x(cx - (w1 + w2) / 2)

fig.savefig("out.png", dpi=100, facecolor='white')
